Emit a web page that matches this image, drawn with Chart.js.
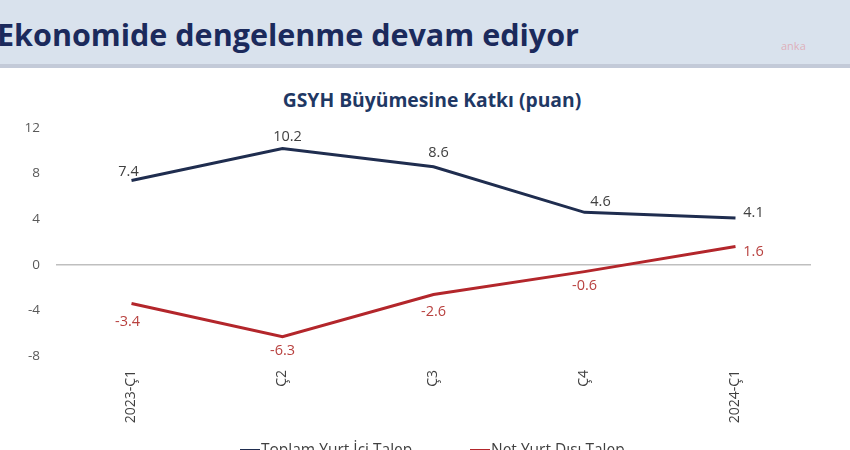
<!DOCTYPE html>
<html>
<head>
<meta charset="utf-8">
<script src="https://cdn.jsdelivr.net/npm/chart.js"></script>
<style>
  html, body { margin: 0; padding: 0; width: 850px; height: 450px; overflow: hidden; background: #fff; }
  #header {
    position: absolute; left: 0; top: 0; width: 850px; height: 64px;
    background: #d9e2ed; border-bottom: 4px solid #c3cad8;
  }
  #header h1 {
    position: absolute; left: -3px; top: 13px; margin: 0;
    font: bold 30.5px "Open Sans", sans-serif; color: #1b2a5c; white-space: nowrap;
  }
  #mark { position: absolute; left: 781px; top: 38px; font: 11px "Open Sans", sans-serif; color: rgba(225, 140, 150, 0.6); }
  #title {
    position: absolute; left: 232px; width: 400px; top: 86px; text-align: center;
    font: bold 19.3px "Open Sans", sans-serif; color: #1f3864; white-space: nowrap;
  }
  #wrap { position: absolute; left: 0; top: 0; width: 850px; height: 450px; }
  .legend { position: absolute; top: 438px; font: 15.5px "Open Sans", sans-serif; color: #404040; white-space: nowrap; }
  .legend span { display: inline-block; width: 20px; height: 6px; margin-right: 1px; vertical-align: 0px; }
</style>
</head>
<body>
<div id="header">
  <h1>Ekonomide dengelenme devam ediyor</h1>
  <div id="mark">anka</div>
</div>
<div id="title">GSYH Büyümesine Katkı (puan)</div>
<div id="wrap"><canvas id="chart" width="850" height="450"></canvas></div>
<div class="legend" style="left:240px"><span style="background:#1f2d4f"></span>Toplam Yurt İçi Talep</div>
<div class="legend" style="left:470px"><span style="background:#b3262b"></span>Net Yurt Dışı Talep</div>
<script>
const quarters = ['2023-Ç1', 'Ç2', 'Ç3', 'Ç4', '2024-Ç1'];
const domesticDemand = [7.4, 10.2, 8.6, 4.6, 4.1];
const netExternalDemand = [-3.4, -6.3, -2.6, -0.6, 1.6];
const yTicks = [12, 8, 4, 0, -4, -8];

// label offsets from each point, [dx, dy]
const labelOffsets = [
    [[-3, -9], [5, -12], [5, -14], [16, -10], [18, -5]],
    [[-4, 18], [0, 14], [0, 17], [0, 14], [18, 5]]
];
const labelColors = ['#404040', '#b8413f'];

const pointLabels = {
    id: 'pointLabels',
    afterDatasetsDraw(chart) {
        const c = chart.ctx;
        c.save();
        c.font = '14.5px "Open Sans", sans-serif';
        c.textAlign = 'center';
        c.textBaseline = 'middle';
        chart.data.datasets.forEach((ds, i) => {
            const meta = chart.getDatasetMeta(i);
            c.fillStyle = labelColors[i];
            meta.data.forEach((pt, j) => {
                const off = labelOffsets[i][j];
                c.fillText(ds.data[j].toFixed(1), pt.x + off[0], pt.y + off[1]);
            });
        });
        c.restore();
    }
};

new Chart(document.getElementById('chart'), {
    type: 'line',
    data: {
        labels: quarters,
        datasets: [{
            label: 'Toplam Yurt İçi Talep',
            data: domesticDemand,
            borderColor: '#1f2d4f',
            borderWidth: 3,
            pointRadius: 0,
            tension: 0
        }, {
            label: 'Net Yurt Dışı Talep',
            data: netExternalDemand,
            borderColor: '#b3262b',
            borderWidth: 3,
            pointRadius: 0,
            tension: 0
        }]
    },
    options: {
        responsive: false,
        animation: false,
        layout: { padding: { left: 0, right: 39, top: 128, bottom: 0 } },
        plugins: {
            legend: { display: false },
            tooltip: { enabled: false }
        },
        scales: {
            x: {
                offset: true,
                grid: { display: false },
                border: { display: false },
                ticks: {
                    color: '#404040',
                    font: { family: '"Open Sans", sans-serif', size: 14 },
                    maxRotation: 90, minRotation: 90,
                    padding: 6
                },
                afterFit(scale) { scale.height = 94; }
            },
            y: {
                min: -8, max: 12,
                afterBuildTicks(scale) { scale.ticks = yTicks.map(v => ({ value: v })); },
                grid: {
                    drawTicks: false,
                    color: ctx => ctx.tick && ctx.tick.value === 0 ? '#bfbfbf' : 'rgba(0,0,0,0)',
                    lineWidth: 1.5
                },
                border: { display: false },
                ticks: {
                    color: '#595959',
                    font: { family: '"Open Sans", sans-serif', size: 13.5 },
                    padding: 16
                },
                afterFit(scale) { scale.width = 56; }
            }
        }
    },
    plugins: [pointLabels]
});
</script>
</body>
</html>
